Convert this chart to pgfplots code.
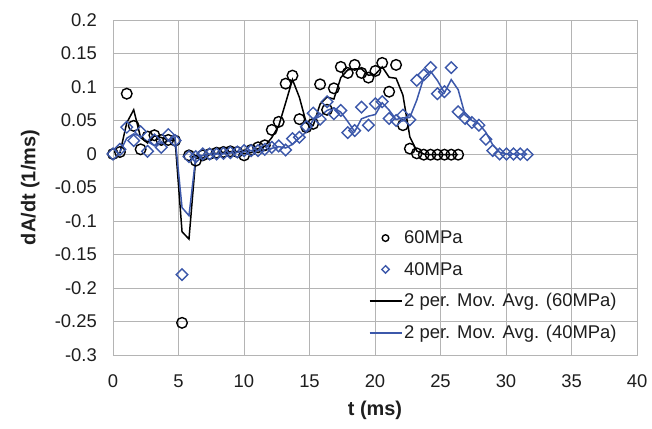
\documentclass[border=0pt]{standalone}
\usepackage{pgfplots}
\pgfplotsset{compat=1.18}
\usepackage{fontspec}
\setmainfont{Liberation Sans}
\definecolor{serblue}{RGB}{60,88,170}
\definecolor{gridgray}{RGB}{180,180,180}
\definecolor{txt}{RGB}{30,30,30}

\pgfplotsset{
  lineleg/.style={legend image code/.code={\draw[##1] (0bp,0bp) -- (32bp,0bp);}},
  markleg/.style={legend image code/.code={\draw[##1, mark size=#1] plot coordinates {(16bp,0bp)};}},
}

% 60 MPa raw rate
\pgfplotstableread{
t v
0 0
0.53 0.003
1.05 0.090
1.58 0.042
2.11 0.007
2.64 0.026
3.16 0.028
3.69 0.021
4.22 0.021
4.74 0.020
5.27 -0.252
5.80 -0.002
6.32 -0.010
6.85 -0.002
7.38 0.000
7.91 0.002
8.43 0.003
8.96 0.004
9.49 0.003
10.01 -0.002
10.54 0.006
11.07 0.010
11.59 0.013
12.12 0.036
12.65 0.048
13.18 0.105
13.70 0.117
14.23 0.052
14.76 0.040
15.28 0.045
15.81 0.104
16.34 0.066
16.86 0.098
17.39 0.130
17.92 0.121
18.45 0.133
18.97 0.121
19.50 0.114
20.03 0.124
20.55 0.136
21.08 0.093
21.61 0.133
22.13 0.043
22.66 0.008
23.19 0.001
23.72 -0.001
24.24 -0.001
24.77 -0.001
25.30 -0.001
25.82 -0.001
26.35 -0.001
}\sixty

% 40 MPa raw rate
\pgfplotstableread{
t v
0 0
0.53 0.007
1.05 0.040
1.58 0.020
2.11 0.033
2.64 0.004
3.16 0.021
3.69 0.010
4.22 0.029
4.74 0.020
5.27 -0.180
5.80 -0.004
6.32 -0.004
6.85 0.000
7.38 0.000
7.91 0.000
8.43 0.001
8.96 0.002
9.49 0.003
10.01 0.005
10.54 0.005
11.07 0.005
11.59 0.007
12.12 0.010
12.65 0.012
13.18 0.006
13.70 0.023
14.23 0.025
14.76 0.041
15.28 0.061
15.81 0.052
16.34 0.078
16.86 0.060
17.39 0.065
17.92 0.032
18.45 0.035
18.97 0.070
19.50 0.043
20.03 0.075
20.55 0.078
21.08 0.053
21.61 0.050
22.13 0.058
22.66 0.051
23.19 0.110
23.72 0.118
24.24 0.129
24.77 0.090
25.30 0.093
25.82 0.129
26.35 0.063
26.88 0.053
27.40 0.047
27.93 0.043
28.46 0.022
28.99 0.005
29.51 0.000
30.04 0.000
30.57 0.000
31.09 0.000
31.62 -0.001
}\forty

% 2 per. moving average, 60 MPa
\pgfplotstableread{
t v
0.53 0.0015
1.05 0.0465
1.58 0.066
2.11 0.0245
2.64 0.0165
3.16 0.027
3.69 0.0245
4.22 0.021
4.74 0.0205
5.27 -0.116
5.80 -0.127
6.32 -0.006
6.85 -0.006
7.38 -0.001
7.91 0.001
8.43 0.0025
8.96 0.0035
9.49 0.0035
10.01 0.0005
10.54 0.002
11.07 0.008
11.59 0.0115
12.12 0.0245
12.65 0.042
13.18 0.0765
13.70 0.111
14.23 0.0845
14.76 0.046
15.28 0.0425
15.81 0.0745
16.34 0.085
16.86 0.082
17.39 0.114
17.92 0.1255
18.45 0.127
18.97 0.127
19.50 0.1175
20.03 0.119
20.55 0.130
21.08 0.1145
21.61 0.113
22.13 0.088
22.66 0.0255
23.19 0.0045
23.72 0.000
24.24 -0.001
24.77 -0.001
25.30 -0.001
25.82 -0.001
26.35 -0.001
}\sixtyavg

% 2 per. moving average, 40 MPa
\pgfplotstableread{
t v
0.53 0.0035
1.05 0.0235
1.58 0.030
2.11 0.0265
2.64 0.0185
3.16 0.0125
3.69 0.0155
4.22 0.0195
4.74 0.0245
5.27 -0.080
5.80 -0.092
6.32 -0.004
6.85 -0.002
7.38 0.000
7.91 0.000
8.43 0.0005
8.96 0.0015
9.49 0.0025
10.01 0.004
10.54 0.005
11.07 0.005
11.59 0.006
12.12 0.0085
12.65 0.011
13.18 0.009
13.70 0.0145
14.23 0.024
14.76 0.033
15.28 0.051
15.81 0.0565
16.34 0.065
16.86 0.069
17.39 0.0625
17.92 0.0485
18.45 0.0335
18.97 0.0525
19.50 0.0565
20.03 0.059
20.55 0.0765
21.08 0.0655
21.61 0.0515
22.13 0.054
22.66 0.0545
23.19 0.0805
23.72 0.114
24.24 0.1235
24.77 0.1095
25.30 0.0915
25.82 0.111
26.35 0.096
26.88 0.058
27.40 0.050
27.93 0.045
28.46 0.0325
28.99 0.0135
29.51 0.0025
30.04 0.000
30.57 0.000
31.09 0.000
31.62 -0.0005
}\fortyavg

\begin{document}
\begin{tikzpicture}
\begin{axis}[
  scale only axis,
  width=524bp, height=335bp,
  xmin=0, xmax=40,
  ymin=-0.3, ymax=0.2,
  xtick={0,5,10,15,20,25,30,35,40},
  ytick={-0.3,-0.25,-0.2,-0.15,-0.1,-0.05,0,0.05,0.1,0.15,0.2},
  grid=major,
  grid style={gridgray, line width=0.8bp},
  axis line style={gridgray, line width=0.8bp},
  major tick length=0pt,
  /pgf/number format/assume math mode=true,
  yticklabel style={/pgf/number format/fixed, /pgf/number format/precision=2,
    font=\fontsize{18.5}{22}\selectfont, text=txt, anchor=east, inner sep=0pt, xshift=-16bp},
  xticklabel style={font=\fontsize{18.5}{22}\selectfont, text=txt, anchor=center, yshift=-26bp},
  xlabel={t (ms)},
  ylabel={dA/dt (1/ms)},
  xlabel style={font=\fontsize{20}{24}\selectfont\bfseries, text=txt,
    at={(axis description cs:0.5,-0.166)}, anchor=center},
  ylabel style={font=\fontsize{20}{24}\selectfont\bfseries, text=txt,
    at={(axis description cs:-0.158,0.5)}, anchor=center},
  legend style={draw=none, fill=none,
    font=\fontsize{18.5}{22}\selectfont, text=txt,
    at={(axis description cs:0.482,0.383)}, anchor=north west,
    row sep=13bp},
  legend cell align=left,
]
  \addplot[only marks, mark=o, mark size=5.3bp, line width=1.4bp, black,
    markleg=3.3bp]
    table[x=t, y=v] {\sixty};
  \addlegendentry{60MPa}

  \addplot[only marks, mark=square, mark size=4.1bp, line width=1.4bp, serblue,
    mark options={rotate=45}, markleg=2.6bp]
    table[x=t, y=v] {\forty};
  \addlegendentry{40MPa}

  \addplot[black, line width=1.5bp, no marks, lineleg]
    table[x=t, y=v] {\sixtyavg};
  \addlegendentry{2 per. Mov. Avg. (60MPa)}

  \addplot[serblue, line width=1.5bp, no marks, lineleg]
    table[x=t, y=v] {\fortyavg};
  \addlegendentry{2 per. Mov. Avg. (40MPa)}
\end{axis}
\pgfresetboundingbox
\path (-113bp,-74bp) rectangle (539bp,355bp);
\end{tikzpicture}
\end{document}
